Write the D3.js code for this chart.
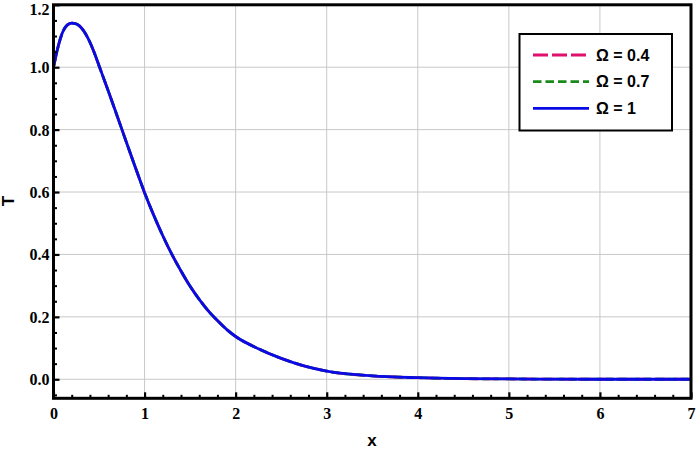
<!DOCTYPE html>
<html>
<head>
<meta charset="utf-8">
<script src="https://cdn.jsdelivr.net/npm/d3@7"></script>
<style>
  body { margin: 0; background: #fff; }
  svg text.tk { font-family: "Liberation Serif", "Times New Roman", Times, "DejaVu Serif", serif; font-weight: bold; font-size: 16px; }
  svg text.lb { font-family: "Liberation Sans", Arial, Helvetica, sans-serif; font-weight: bold; }
</style>
</head>
<body>
<div id="chart"></div>
<script>
// values; the three curves coincide
const xValues = [0, 0.05, 0.1, 0.15, 0.2, 0.25, 0.3, 0.35, 0.4, 0.45, 0.5, 0.55, 0.6, 0.7, 0.8, 0.9,
  1.0, 1.1, 1.2, 1.3, 1.4, 1.5, 1.6, 1.7, 1.8, 1.9, 2.0, 2.25, 2.5, 2.75, 3.0, 3.5, 4.0, 4.5, 5, 6, 7];
const tOmega04 = [1.0, 1.065, 1.112, 1.135, 1.141, 1.139, 1.128, 1.108, 1.08, 1.045, 1.005, 0.965, 0.925, 0.843, 0.76, 0.678,
  0.598, 0.526, 0.46, 0.40, 0.347, 0.298, 0.256, 0.219, 0.188, 0.16, 0.137, 0.098, 0.067, 0.043, 0.026, 0.011, 0.005, 0.002, 0.001, 0, 0];
const tOmega07 = [1.0, 1.065, 1.112, 1.135, 1.141, 1.139, 1.128, 1.108, 1.08, 1.045, 1.005, 0.965, 0.925, 0.843, 0.76, 0.678,
  0.598, 0.526, 0.46, 0.40, 0.347, 0.298, 0.256, 0.219, 0.188, 0.16, 0.137, 0.098, 0.067, 0.043, 0.026, 0.011, 0.005, 0.002, 0.001, 0, 0];
const tOmega1 = [1.0, 1.065, 1.112, 1.135, 1.141, 1.139, 1.128, 1.108, 1.08, 1.045, 1.005, 0.965, 0.925, 0.843, 0.76, 0.678,
  0.598, 0.526, 0.46, 0.40, 0.347, 0.298, 0.256, 0.219, 0.188, 0.16, 0.137, 0.098, 0.067, 0.043, 0.026, 0.011, 0.005, 0.002, 0.001, 0, 0];
const seriesNames = ["\u03A9 = 0.4", "\u03A9 = 0.7", "\u03A9 = 1"];
const seriesColors = ["#e0106c", "#1a8a1a", "#0a0ae6"];
const seriesDash = ["15,4", "8.5,4", null];
const xTicks = [0, 1, 2, 3, 4, 5, 6, 7];
const yTicks = [0, 0.2, 0.4, 0.6, 0.8, 1.0, 1.2];

const width = 696, height = 451;
const plotLeft = 53.5, plotRight = 691, plotTop = 4.8, plotBottom = 398.3;

const svg = d3.select("#chart").append("svg")
    .attr("width", width)
    .attr("height", height);

const x = d3.scaleLinear().domain([0, 7]).range([plotLeft, plotRight]);
const y = d3.scaleLinear().domain([-0.061, 1.2]).range([plotBottom, plotTop]);

// grid
svg.append("g").selectAll("line")
    .data(xTicks.filter(d => d > 0 && d < 7))
    .enter().append("line")
    .attr("x1", d => x(d)).attr("x2", d => x(d))
    .attr("y1", plotTop).attr("y2", plotBottom)
    .attr("stroke", "#c8c8c8").attr("stroke-width", 1);
svg.append("g").selectAll("line")
    .data(yTicks.filter(d => d < 1.2))
    .enter().append("line")
    .attr("x1", plotLeft).attr("x2", plotRight)
    .attr("y1", d => y(d)).attr("y2", d => y(d))
    .attr("stroke", "#c8c8c8").attr("stroke-width", 1);

// curves
const line = d3.line()
    .x((d, i) => x(xValues[i]))
    .y(d => y(d))
    .curve(d3.curveMonotoneX);

[tOmega04, tOmega07, tOmega1].forEach(function (vals, k) {
    svg.append("path")
        .attr("d", line(vals))
        .attr("fill", "none")
        .attr("stroke", seriesColors[k])
        .attr("stroke-width", 2.8)
        .attr("stroke-dasharray", seriesDash[k]);
});

// axes with inward ticks
const minorX = d3.range(0, 7.001, 0.2).filter(d => Math.abs(d - Math.round(d)) > 1e-6);
const minorY = d3.range(-0.05, 1.2, 0.05).filter(d => Math.abs(d * 5 - Math.round(d * 5)) > 1e-6);

svg.append("g")
    .attr("transform", `translate(0,${plotBottom})`)
    .call(d3.axisBottom(x).tickValues(minorX).tickSize(-3.5).tickFormat(""))
    .call(g => g.select(".domain").remove())
    .selectAll("line").attr("stroke-width", 2);
const xa = svg.append("g")
    .attr("transform", `translate(0,${plotBottom})`)
    .call(d3.axisBottom(x).tickValues(xTicks).tickSizeInner(-6).tickSizeOuter(0).tickPadding(11).tickFormat(d3.format("d")));
xa.select(".domain").remove();
xa.selectAll("line").attr("stroke-width", 2.2);
xa.selectAll("text")
    .attr("class", "tk")
    .attr("dy", "0.62em")
    .attr("fill", "#000");

svg.append("g")
    .attr("transform", `translate(${plotLeft},0)`)
    .call(d3.axisLeft(y).tickValues(minorY).tickSize(-3.5).tickFormat(""))
    .call(g => g.select(".domain").remove())
    .selectAll("line").attr("stroke-width", 2);
const ya = svg.append("g")
    .attr("transform", `translate(${plotLeft},0)`)
    .call(d3.axisLeft(y).tickValues(yTicks).tickSizeInner(-6).tickSizeOuter(0).tickPadding(4).tickFormat(d3.format(".1f")));
ya.select(".domain").remove();
ya.selectAll("line").attr("stroke-width", 2.2);
ya.selectAll("text")
    .attr("class", "tk")
    .attr("dy", d => d === 1.2 ? "0.62em" : "0.34em")
    .attr("fill", "#000");

// frame
svg.append("rect")
    .attr("x", plotLeft).attr("y", plotTop)
    .attr("width", plotRight - plotLeft).attr("height", plotBottom - plotTop)
    .attr("fill", "none").attr("stroke", "#000").attr("stroke-width", 3);

// axis titles
svg.append("text")
    .attr("class", "lb")
    .attr("x", 372).attr("y", 446)
    .attr("text-anchor", "middle")
    .attr("font-size", 17)
    .text("x");
svg.append("text")
    .attr("class", "lb")
    .attr("transform", "translate(14,201) rotate(-90)")
    .attr("text-anchor", "middle")
    .attr("font-size", 17)
    .text("T");

// legend
const lg = svg.append("g");
lg.append("rect")
    .attr("x", 519.5).attr("y", 34)
    .attr("width", 152.5).attr("height", 96.5)
    .attr("fill", "#fff").attr("stroke", "#000").attr("stroke-width", 2);
const rows = lg.selectAll("g.row")
    .data(seriesNames)
    .enter().append("g")
    .attr("class", "row")
    .attr("transform", (d, i) => `translate(0,${55 + i * 26.7})`);
rows.append("line")
    .attr("x1", 533).attr("x2", 589)
    .attr("stroke", (d, i) => seriesColors[i])
    .attr("stroke-width", 2.8)
    .attr("stroke-dasharray", (d, i) => seriesDash[i]);
rows.append("text")
    .attr("class", "lb")
    .attr("x", 596).attr("y", 5.5)
    .attr("font-size", 16)
    .text(d => d);
</script>
</body>
</html>
